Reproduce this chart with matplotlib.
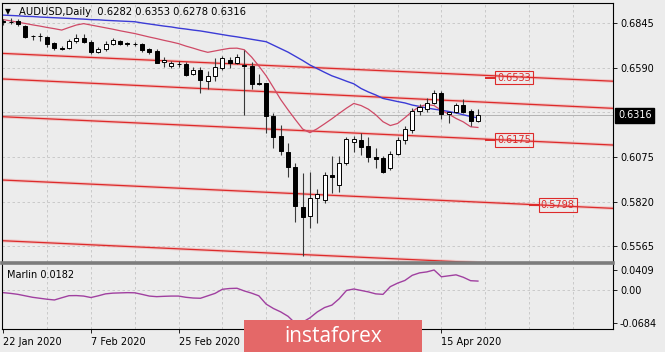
import matplotlib
matplotlib.use("Agg")
import matplotlib.pyplot as plt
from matplotlib.lines import Line2D
from matplotlib.patches import Rectangle
from matplotlib.transforms import blended_transform_factory

# AUDUSD daily bars, 22 Jan 2020 .. 22 Apr 2020
opens = [0.6857, 0.6853, 0.6860, 0.6830, 0.6774, 0.6771, 0.6765, 0.6734, 0.6703, 0.6701,
         0.6745, 0.6759, 0.6739, 0.6682, 0.6697, 0.6724, 0.6743, 0.6729, 0.6727, 0.6724,
         0.6696, 0.6686, 0.6621, 0.6600, 0.6613, 0.6611, 0.6552, 0.6577, 0.6515, 0.6542,
         0.6586, 0.6634, 0.6619, 0.6605, 0.6600, 0.6499, 0.6500, 0.6312, 0.6197, 0.6105,
         0.6017, 0.5789, 0.5737, 0.5841, 0.5829, 0.5973, 0.5915, 0.6044, 0.6164, 0.6174,
         0.6140, 0.6075, 0.6071, 0.6011, 0.6092, 0.6174, 0.6232, 0.6343, 0.6351, 0.6389,
         0.6446, 0.6322, 0.6333, 0.6375, 0.6343, 0.6282]
highs = [0.6868, 0.6878, 0.6868, 0.6835, 0.6775, 0.6788, 0.6772, 0.6738, 0.6712, 0.6755,
         0.6784, 0.6782, 0.6749, 0.6711, 0.6743, 0.6759, 0.6749, 0.6740, 0.6739, 0.6730,
         0.6703, 0.6696, 0.6650, 0.6628, 0.6628, 0.6623, 0.6594, 0.6591, 0.6571, 0.6648,
         0.6657, 0.6651, 0.6669, 0.6692, 0.6624, 0.6553, 0.6504, 0.6329, 0.6260, 0.6157,
         0.6042, 0.5984, 0.5990, 0.5892, 0.5992, 0.6082, 0.6082, 0.6191, 0.6197, 0.6216,
         0.6191, 0.6128, 0.6082, 0.6113, 0.6193, 0.6255, 0.6358, 0.6381, 0.6414, 0.6462,
         0.6458, 0.6337, 0.6389, 0.6408, 0.6351, 0.6353]
lows = [0.6835, 0.6841, 0.6830, 0.6758, 0.6749, 0.6745, 0.6711, 0.6692, 0.6694, 0.6697,
        0.6732, 0.6734, 0.6669, 0.6673, 0.6688, 0.6720, 0.6720, 0.6717, 0.6715, 0.6680,
        0.6671, 0.6615, 0.6596, 0.6590, 0.6596, 0.6542, 0.6548, 0.6443, 0.6467, 0.6515,
        0.6577, 0.6588, 0.6611, 0.6318, 0.6466, 0.6490, 0.6216, 0.6128, 0.6085, 0.5961,
        0.5703, 0.5507, 0.5668, 0.5697, 0.5812, 0.5869, 0.5877, 0.6030, 0.6107, 0.6088,
        0.6049, 0.6013, 0.5986, 0.6002, 0.6088, 0.6151, 0.6214, 0.6318, 0.6337, 0.6381,
        0.6293, 0.6270, 0.6328, 0.6331, 0.6255, 0.6278]
closes = [0.6853, 0.6855, 0.6841, 0.6765, 0.6771, 0.6773, 0.6726, 0.6701, 0.6700, 0.6745,
          0.6759, 0.6739, 0.6682, 0.6697, 0.6724, 0.6749, 0.6726, 0.6726, 0.6724, 0.6692,
          0.6680, 0.6619, 0.6634, 0.6617, 0.6611, 0.6548, 0.6577, 0.6519, 0.6542, 0.6591,
          0.6643, 0.6619, 0.6651, 0.6597, 0.6496, 0.6496, 0.6312, 0.6190, 0.6111, 0.6019,
          0.5792, 0.5734, 0.5841, 0.5864, 0.5973, 0.5960, 0.6044, 0.6180, 0.6180, 0.6136,
          0.6075, 0.6063, 0.5992, 0.6094, 0.6174, 0.6237, 0.6343, 0.6362, 0.6385, 0.6446,
          0.6324, 0.6333, 0.6375, 0.6337, 0.6285, 0.6316]

ma_fast = [0.6866, 0.6859, 0.6851, 0.6844, 0.6836, 0.6829, 0.6821, 0.6814, 0.6806, 0.6821,
           0.6835, 0.6843, 0.6835, 0.6827, 0.6819, 0.6811, 0.6802, 0.6794, 0.6786, 0.6776,
           0.6766, 0.6757, 0.6747, 0.6738, 0.6728, 0.6714, 0.6702, 0.6689, 0.6678, 0.6686,
           0.6694, 0.6701, 0.6702, 0.6693, 0.6651, 0.6599, 0.6543, 0.6475, 0.6406, 0.6347,
           0.6291, 0.6237, 0.6216, 0.6239, 0.6267, 0.6296, 0.6327, 0.6357, 0.6384, 0.6372,
           0.6351, 0.6319, 0.6279, 0.6257, 0.6269, 0.6302, 0.6338, 0.6366, 0.6378, 0.6372,
           0.6344, 0.6323, 0.6298, 0.6278, 0.6250, 0.6246]
ma_slow = [0.6892, 0.6890, 0.6888, 0.6885, 0.6884, 0.6881, 0.6879, 0.6877, 0.6875, 0.6873,
           0.6871, 0.6869, 0.6866, 0.6865, 0.6862, 0.6860, 0.6858, 0.6856, 0.6854, 0.6847,
           0.6841, 0.6835, 0.6829, 0.6824, 0.6817, 0.6812, 0.6806, 0.6801, 0.6794, 0.6787,
           0.6780, 0.6773, 0.6767, 0.6760, 0.6753, 0.6746, 0.6739, 0.6719, 0.6699, 0.6679,
           0.6655, 0.6631, 0.6605, 0.6584, 0.6563, 0.6543, 0.6528, 0.6512, 0.6497, 0.6470,
           0.6450, 0.6433, 0.6413, 0.6404, 0.6395, 0.6387, 0.6375, 0.6367, 0.6358, 0.6351,
           0.6345, 0.6338, 0.6329, 0.6319, 0.6309, 0.6301]

marlin = [-0.0055, -0.0070, -0.0090, -0.0120, -0.0150, -0.0170, -0.0190, -0.0205, -0.0160, -0.0117,
          -0.0115, -0.0125, -0.0155, -0.0120, -0.0080, -0.0065, -0.0060, -0.0055, -0.0058, -0.0090,
          -0.0125, -0.0137, -0.0130, -0.0125, -0.0125, -0.0150, -0.0165, -0.0170, -0.0120, -0.0070,
          0.0014, 0.0030, 0.0035, -0.0020, -0.0065, -0.0120, -0.0290, -0.0380, -0.0450, -0.0540,
          -0.0684, -0.0660, -0.0570, -0.0450, -0.0360, -0.0310, -0.0180, -0.0010, 0.0020, -0.0010,
          -0.0040, -0.0080, -0.0090, 0.0068, 0.0140, 0.0195, 0.0300, 0.0350, 0.0370, 0.0409,
          0.0270, 0.0290, 0.0310, 0.0260, 0.0190, 0.0182]

# 12 Mar and 30 Mar sit under the logo in the original
date_labels = ["22 Jan 2020", "7 Feb 2020", "25 Feb 2020", "", "", "15 Apr 2020"]
price_ticks = [0.6845, 0.6590, 0.6075, 0.5820, 0.5565]
price_grid = [0.6845, 0.6590, 0.6333, 0.6075, 0.5820, 0.5565]
marlin_ticks = [0.0409, 0.0, -0.0684]
marlin_ticklabels = ["0.0409", "0.00", "-0.0684"]

# channel lines: price at the left and the right edge of the window
channel_left = [0.6672, 0.6525, 0.6308, 0.5944, 0.5595]
channel_right = [0.6512, 0.6356, 0.6145, 0.5781, 0.5433]
levels = [0.6533, 0.6175, 0.5798]
level_pos = [67.6, 67.6, 73.6]

BG = "#ececec"
RED = "#dd2a2a"
GRID = "#c4c4c4"
FS = 7

fig = plt.figure(figsize=(6.65, 3.52), dpi=100, facecolor=BG)
ax = fig.add_axes([0.003, 0.2557, 0.9188, 0.7358], facecolor=BG)
axm = fig.add_axes([0.003, 0.0653, 0.9188, 0.1847], facecolor=BG)

n = len(closes)
idx = list(range(n))
xmin, xmax = -0.18, 83.5

for a in (ax, axm):
    a.set_xlim(xmin, xmax)
    for g in range(6, 84, 6):
        a.axvline(g, color=GRID, lw=0.6, ls=(0, (3, 3)), zorder=0)
    a.yaxis.tick_right()
    a.tick_params(axis="y", labelsize=FS, length=3, width=0.6, pad=2)
    for s in a.spines.values():
        s.set_linewidth(0.8)

for p in price_grid:
    ax.axhline(p, color=GRID, lw=0.6, ls=(0, (3, 3)), zorder=0)
ax.axhline(closes[-1], color="#b4b4b4", lw=0.7, zorder=0)

ax.set_ylim(0.54725, 0.69617)
ax.set_yticks(price_ticks, ["%.4f" % p for p in price_ticks])
ax.set_xticks([])
ax.spines["bottom"].set_visible(False)

# channel lines
for y0, y1 in zip(channel_left, channel_right):
    ax.plot([xmin, xmax], [y0, y1], color="#f09a9a", lw=2.4, alpha=0.45, zorder=1)
    ax.plot([xmin, xmax], [y0, y1], color=RED, lw=0.9, zorder=1)

ax.plot(idx, ma_slow, color="#3b3bd6", lw=1.0, zorder=2)
ax.plot(idx, ma_fast, color="#cf4a66", lw=0.9, zorder=2)

# candles
ax.vlines(idx, lows, highs, color="#383838", lw=0.8, zorder=3)
bodies_bottom = [min(o, c) for o, c in zip(opens, closes)]
bodies_height = [max(abs(c - o), 0.00008) for o, c in zip(opens, closes)]
face = ["white" if c >= o else "black" for o, c in zip(opens, closes)]
ax.bar(idx, bodies_height, bottom=bodies_bottom, width=0.55, color=face,
       edgecolor="black", linewidth=0.7, zorder=4)

# price labels on the chart
for lv, pos in zip(levels, level_pos):
    ax.hlines(lv, pos - 1.6, pos - 0.2, color=RED, lw=1.4, zorder=5)
    ax.text(pos, lv, "%.4f" % lv, color=RED, fontsize=FS, ha="left", va="center", zorder=6,
            bbox=dict(boxstyle="square,pad=0.2", fc="none", ec=RED, lw=0.8))

trans = blended_transform_factory(ax.transAxes, ax.transData)
ax.text(1.008, closes[-1], "%.4f" % closes[-1], transform=trans, color="white", fontsize=FS,
        ha="left", va="center", clip_on=False, zorder=10,
        bbox=dict(boxstyle="square,pad=0.25", fc="black", ec="black"))

# indicator window
axm.axhline(0, color=GRID, lw=0.6, ls=(0, (3, 3)), zorder=0)
axm.plot(idx, marlin, color="#a040a0", lw=1.0)
axm.set_ylim(-0.0800, 0.0532)
axm.set_yticks(marlin_ticks, marlin_ticklabels)
axm.spines["top"].set_visible(False)
axm.set_xticks(range(0, 72, 12), date_labels)
axm.tick_params(axis="x", labelsize=FS, length=3, width=0.6, pad=3)
for lbl in axm.get_xticklabels():
    lbl.set_ha("left")
axm.text(0.008, 0.83, "Marlin %.4f" % marlin[-1], transform=axm.transAxes, fontsize=FS,
         ha="left", va="center")

fig.add_artist(Line2D([0.003, 0.9218], [1 - 263 / 352] * 2, lw=2.6, color="#7c7c7c"))

fig.text(5 / 665, 1 - 12 / 352, "\u25bc", fontsize=5.5, ha="left", va="center")
fig.text(19 / 665, 1 - 12 / 352,
         "AUDUSD,Daily  %.4f %.4f %.4f %.4f" % (opens[-1], highs[-1], lows[-1], closes[-1]),
         fontsize=7.2, ha="left", va="center")

fig.patches.append(Rectangle((244 / 665, 0), 178 / 665, 32 / 352, transform=fig.transFigure,
                             fc="#e46868", ec="none", zorder=10))
fig.text(333 / 665, 1 - 336 / 352, "instaforex", color="white", fontsize=15,
         family="Open Sans", ha="center", va="center", zorder=11)

fig.savefig("out.png", dpi=100, facecolor=BG)
